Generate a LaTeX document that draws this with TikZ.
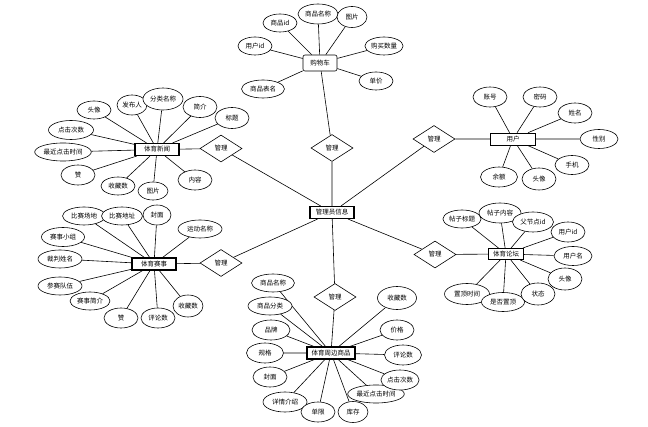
\documentclass[tikz,border=0pt]{standalone}
\usepackage{fontspec}
\setmainfont{Noto Sans CJK SC}
\usetikzlibrary{shapes.geometric, backgrounds}
\tikzset{
  attr/.style={draw, fill=white, line width=0.6pt, ellipse, minimum width=34pt, minimum height=18pt, inner sep=0.5pt, font=\fontsize{6.5}{7}\selectfont},
  ent/.style={draw, fill=white, line width=1.1pt, rectangle, minimum width=44pt, minimum height=12pt, inner xsep=3pt, inner ysep=1pt, font=\fontsize{6.5}{7}\selectfont},
  rel/.style={draw, fill=white, line width=0.6pt, diamond, aspect=1.55, minimum width=42pt, minimum height=27pt, inner sep=0pt, font=\fontsize{6.5}{7}\selectfont},
  link/.style={line width=0.6pt}
}
\begin{document}
\begin{tikzpicture}[x=1pt, y=-1pt]
\useasboundingbox (0, 0) rectangle (648, 427);
% centre
\node[ent] (admin) at (332, 212.5) {管理员信息};
\node[rel] (rcart) at (332, 148) {管理};
\node[rel] (rnews) at (221, 148.5) {管理};
\node[rel] (revent) at (221, 263) {管理};
\node[rel] (ruser) at (434, 139) {管理};
\node[rel] (rforum) at (435, 254.5) {管理};
\node[rel] (rgoods) at (335, 297) {管理};
% cart
\node[ent, line width=0.6pt, rounded corners=2pt, minimum width=34pt, minimum height=16pt] (cart) at (320, 63) {购物车};
\node[attr] (cid) at (280, 23) {商品id};
\node[attr, minimum width=40pt, minimum height=20pt] (cname) at (318, 14) {商品名称};
\node[attr, minimum width=30pt, minimum height=21pt] (cpic) at (352, 17) {图片};
\node[attr] (cuid) at (255, 46) {用户id};
\node[attr] (cnum) at (384, 46) {购买数量};
\node[attr] (cprice) at (376, 81) {单价};
\node[attr, minimum width=43pt] (ctable) at (263, 89) {商品表名};
% news
\node[ent] (news) at (157, 149.5) {体育新闻};
\node[attr] (nhead) at (94, 110) {头像};
\node[attr, minimum width=30pt, minimum height=20pt] (nauthor) at (132, 105) {发布人};
\node[attr, minimum width=40pt, minimum height=22pt] (ncat) at (163, 99) {分类名称};
\node[attr, minimum height=21pt] (nbrief) at (200, 107) {简介};
\node[attr, minimum height=21pt] (ntitle) at (232, 118) {标题};
\node[attr, minimum width=45pt, minimum height=19pt] (nclicks) at (71, 130) {点击次数};
\node[attr] (nlast) at (63, 152) {最近点击时间};
\node[attr, minimum height=20pt] (nlike) at (78, 175) {赞};
\node[attr] (nfav) at (118, 186) {收藏数};
\node[attr, minimum width=30pt] (npic) at (153, 191) {图片};
\node[attr, minimum height=20pt] (ncontent) at (195, 180) {内容};
% event
\node[ent] (event) at (154, 264) {体育赛事};
\node[attr, minimum width=43pt] (eplace) at (84, 216) {比赛场地};
\node[attr, minimum width=41pt] (eaddr) at (122, 216) {比赛地址};
\node[attr, minimum width=28pt, minimum height=20pt] (ecover) at (157, 215) {封面};
\node[attr, minimum width=44pt] (esport) at (200, 229) {运动名称};
\node[attr, minimum width=43pt, minimum height=19pt] (egroup) at (63, 237) {赛事小组};
\node[attr, minimum width=44pt] (ereferee) at (60, 259) {裁判姓名};
\node[attr, minimum width=44pt] (eteam) at (60, 286) {参赛队伍};
\node[attr, minimum width=40pt] (ebrief) at (90, 301) {赛事简介};
\node[attr, minimum height=20pt] (elike) at (121, 318) {赞};
\node[attr, minimum height=20pt] (ecomment) at (158, 318) {评论数};
\node[attr, minimum width=30pt, minimum height=22pt] (efav) at (188, 306) {收藏数};
% user
\node[ent, line width=0.6pt, minimum width=45pt] (user) at (513, 139) {用户};
\node[attr, minimum height=20pt] (uacc) at (490, 97) {账号};
\node[attr, minimum height=20pt] (upwd) at (540, 97) {密码};
\node[attr, minimum height=20pt] (uname) at (575, 113) {姓名};
\node[attr, minimum width=38pt, minimum height=19pt] (usex) at (599, 139) {性别};
\node[attr, minimum height=19pt] (uphone) at (572, 165) {手机};
\node[attr, minimum height=22pt] (uhead) at (539, 179) {头像};
\node[attr, minimum width=37pt, minimum height=20pt] (ubal) at (499, 177) {余额};
% forum
\node[ent, minimum width=35pt, minimum height=11pt] (forum) at (506, 254) {体育论坛};
\node[attr] (ftitle) at (462, 219) {帖子标题};
\node[attr, minimum width=42pt, minimum height=20pt] (fcontent) at (500, 213) {帖子内容};
\node[attr, minimum width=41pt, minimum height=20pt] (fparent) at (533, 222) {父节点id};
\node[attr, minimum height=20pt] (fuid) at (568, 232) {用户id};
\node[attr, minimum width=38pt, minimum height=19pt] (funame) at (573, 256) {用户名};
\node[attr, minimum height=22pt] (fhead) at (565, 279) {头像};
\node[attr, minimum width=45pt, minimum height=21pt] (ftoptime) at (467, 294) {置顶时间};
\node[attr, minimum width=43pt, minimum height=19pt] (ftop) at (503, 302) {是否置顶};
\node[attr, minimum height=22pt] (fstate) at (538, 294) {状态};
% goods
\node[ent, minimum width=48pt] (goods) at (331, 353) {体育周边商品};
\node[attr, minimum width=43pt] (gname) at (273, 283) {商品名称};
\node[attr, minimum width=44pt] (gcat) at (270, 306) {商品分类};
\node[attr, minimum width=38pt, minimum height=20pt] (gbrand) at (271, 330) {品牌};
\node[attr, minimum width=37pt, minimum height=20pt] (gspec) at (265, 353) {规格};
\node[attr, minimum height=20pt] (gcover) at (270, 377) {封面};
\node[attr, minimum width=44pt, minimum height=20pt] (gdetail) at (285, 402) {详情介绍};
\node[attr, minimum height=20pt] (glimit) at (318, 412) {单限};
\node[attr, minimum width=30pt, minimum height=21pt] (gstock) at (353, 412) {库存};
\node[attr] (glast) at (376, 394) {最近点击时间};
\node[attr, minimum height=20pt] (gclicks) at (400, 380) {点击次数};
\node[attr, minimum width=37pt, minimum height=20pt] (gcomment) at (403, 355) {评论数};
\node[attr, minimum height=20pt] (gprice) at (397, 330) {价格};
\node[attr, minimum width=39pt, minimum height=23pt] (gfav) at (397, 298) {收藏数};
% links, behind the shapes
\begin{scope}[on background layer]
\draw[link] (admin) -- (rcart) (rcart) -- (cart) (admin) -- (rnews) (rnews) -- (news)
  (admin) -- (revent) (revent) -- (event) (admin) -- (ruser) (ruser) -- (user)
  (admin) -- (rforum) (rforum) -- (forum) (admin) -- (rgoods) (rgoods) -- (goods);
\draw[link] (cart) -- (cid) (cart) -- (cname) (cart) -- (cpic) (cart) -- (cuid)
  (cart) -- (cnum) (cart) -- (cprice) (cart) -- (ctable);
\draw[link] (news) -- (nhead) (news) -- (nauthor) (news) -- (ncat) (news) -- (nbrief)
  (news) -- (ntitle) (news) -- (nclicks) (news) -- (nlast) (news) -- (nlike)
  (news) -- (nfav) (news) -- (npic) (news) -- (ncontent);
\draw[link] (event) -- (eplace) (event) -- (eaddr) (event) -- (ecover) (event) -- (esport)
  (event) -- (egroup) (event) -- (ereferee) (event) -- (eteam) (event) -- (ebrief)
  (event) -- (elike) (event) -- (ecomment) (event) -- (efav);
\draw[link] (user) -- (uacc) (user) -- (upwd) (user) -- (uname) (user) -- (usex)
  (user) -- (uphone) (user) -- (uhead) (user) -- (ubal);
\draw[link] (forum) -- (ftitle) (forum) -- (fcontent) (forum) -- (fparent) (forum) -- (fuid)
  (forum) -- (funame) (forum) -- (fhead) (forum) -- (ftoptime) (forum) -- (ftop) (forum) -- (fstate);
\draw[link] (goods) -- (gname) (goods) -- (gcat) (goods) -- (gbrand) (goods) -- (gspec)
  (goods) -- (gcover) (goods) -- (gdetail) (goods) -- (glimit) (goods) -- (gstock)
  (goods) -- (glast) (goods) -- (gclicks) (goods) -- (gcomment) (goods) -- (gprice) (goods) -- (gfav);
\end{scope}
\end{tikzpicture}
\end{document}
